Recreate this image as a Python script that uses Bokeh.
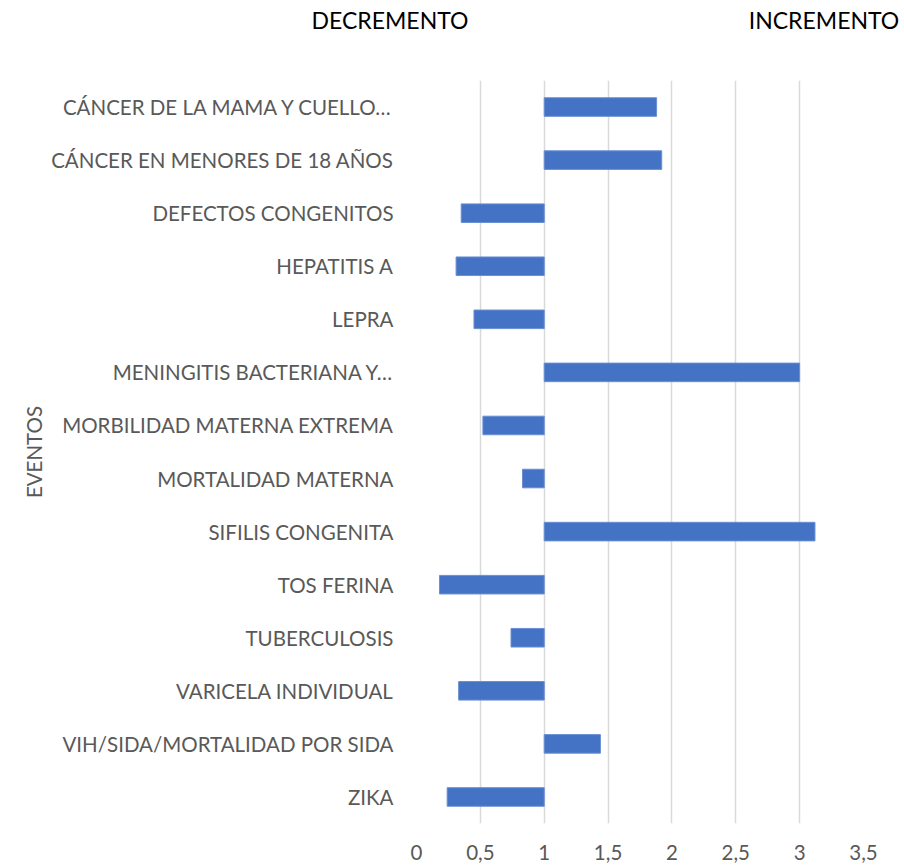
from bokeh.plotting import figure
from bokeh.layouts import column
from bokeh.models import FactorRange, Range1d, SingleIntervalTicker, CustomJSTickFormatter, ColumnDataSource, Div
from bokeh.embed import file_html
from bokeh.resources import INLINE

events = [
    "CÁNCER DE LA MAMA Y CUELLO…",
    "CÁNCER EN MENORES DE 18 AÑOS",
    "DEFECTOS CONGENITOS",
    "HEPATITIS A",
    "LEPRA",
    "MENINGITIS BACTERIANA Y…",
    "MORBILIDAD MATERNA EXTREMA",
    "MORTALIDAD MATERNA",
    "SIFILIS CONGENITA",
    "TOS FERINA",
    "TUBERCULOSIS",
    "VARICELA INDIVIDUAL",
    "VIH/SIDA/MORTALIDAD POR SIDA",
    "ZIKA",
]
ratios = [1.88, 1.92, 0.35, 0.31, 0.45, 3.0, 0.52, 0.83, 3.12, 0.18, 0.74, 0.33, 1.44, 0.24]
baseline = [1.0] * len(events)
headers = ["DECREMENTO", "INCREMENTO"]

FONT = "Lato"
GRAY = "#595959"
W = 904
HEAD_H = 52

# header strip with the two direction labels
spans = "".join(
    f"<span style='position:absolute;left:{cx}px;top:6px;transform:translateX(-50%);"
    f"white-space:nowrap;line-height:28px;font-weight:400'>{t}</span>"
    for t, cx in zip(headers, (390, 824))
)
head = Div(text=f"<div style='position:relative;width:{W}px;height:{HEAD_H}px;"
                f"font-family:{FONT};font-size:23px;font-weight:400;color:#000000'>{spans}</div>",
           width=W, height=HEAD_H, margin=0)

src = ColumnDataSource(dict(event=events, ratio=ratios, base=baseline))

p = figure(width=W, height=866 - HEAD_H, output_backend="svg", toolbar_location=None,
           y_range=FactorRange(factors=list(reversed(events))),
           x_range=Range1d(0, 3.5),
           min_border_left=416, min_border_right=W - 863, min_border_top=80 - HEAD_H,
           min_border_bottom=43)
p.outline_line_color = None

p.hbar(y="event", left="base", right="ratio", height=0.35, source=src,
       fill_color="#4472C4", line_color="#6a8fd4", line_width=1)

p.xaxis.ticker = SingleIntervalTicker(interval=0.5)
p.xaxis.formatter = CustomJSTickFormatter(code="return tick.toString().replace('.', ',');")
p.xgrid.ticker = SingleIntervalTicker(interval=0.5)
p.xgrid.grid_line_color = "#d9d9d9"
p.xgrid.grid_line_width = 1.5
p.ygrid.grid_line_color = None

for ax in (p.xaxis, p.yaxis):
    ax.axis_line_color = None
    ax.major_tick_line_color = None
    ax.minor_tick_line_color = None
    ax.major_tick_out = 0
    ax.major_tick_in = 0
    ax.minor_tick_out = 0
    ax.major_label_text_font = FONT
    ax.major_label_text_color = GRAY
    ax.major_label_text_font_size = "20.5px"

p.xaxis.major_label_standoff = 21
p.yaxis.major_label_standoff = 23
p.yaxis.axis_label = "EVENTOS"
p.yaxis.axis_label_text_font = FONT
p.yaxis.axis_label_text_font_style = "normal"
p.yaxis.axis_label_text_font_size = "20.5px"
p.yaxis.axis_label_text_color = GRAY
p.yaxis.axis_label_standoff = 2

layout = column(head, p, spacing=0)
open("out.html", "w").write(file_html(layout, INLINE))
